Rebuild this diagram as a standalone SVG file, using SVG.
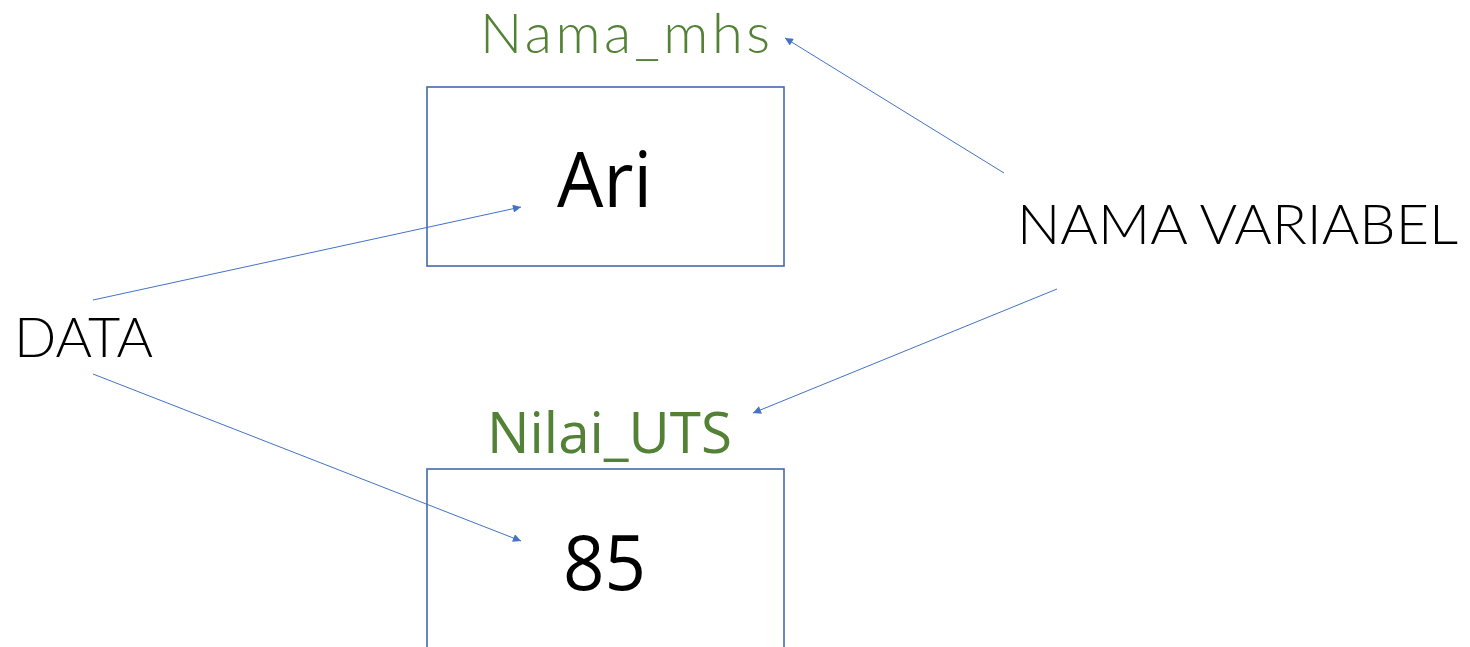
<svg xmlns="http://www.w3.org/2000/svg" width="1470" height="647" viewBox="0 0 1470 647">
  <style>
    .box { fill: #ffffff; stroke: #4468AE; stroke-width: 1.6; }
    .link { stroke: #4472C4; stroke-width: 1; fill: none; marker-end: url(#tip); }
    .varname { font-family: "Open Sans", "Noto Sans", sans-serif; font-size: 56px; fill: #538135; }
    .geo { font-family: Lato, "Noto Sans", sans-serif; font-weight: 300; font-size: 56px; fill: #538135; }
    .value { font-family: "Open Sans", "Liberation Sans", sans-serif; font-size: 76px; fill: #000000; }
    .label { font-family: Lato, "Noto Sans", sans-serif; font-weight: 300; font-size: 55px; fill: #000000; }
  </style>
  <defs>
    <marker id="tip" viewBox="0 0 10 10" refX="10" refY="5" markerWidth="10" markerHeight="8" markerUnits="userSpaceOnUse" orient="auto">
      <path d="M0,0 L10,5 L0,10 z" fill="#4472C4"/>
    </marker>
  </defs>
  <rect width="1470" height="647" fill="#ffffff"/>

  <!-- first variable: name above, value in the box -->
  <g id="var-nama">
    <rect class="box" x="427" y="87" width="357" height="179"/>
    <text class="geo" x="480" y="53" textLength="290" lengthAdjust="spacing">Nama_mhs</text>
    <text class="value" x="557" y="207" textLength="95" lengthAdjust="spacingAndGlyphs">Ari</text>
  </g>

  <!-- second variable -->
  <g id="var-nilai">
    <rect class="box" x="427" y="469" width="357" height="200"/>
    <text class="varname" x="487" y="453" textLength="245" lengthAdjust="spacingAndGlyphs">Nilai_UTS</text>
    <text class="value" x="563" y="590" textLength="83" lengthAdjust="spacingAndGlyphs">85</text>
  </g>

  <!-- side labels -->
  <g id="label-data">
    <text class="label" x="14" y="357" textLength="139" lengthAdjust="spacingAndGlyphs">DATA</text>
  </g>
  <g id="label-variabel">
    <text class="label" x="1017" y="244" textLength="441" lengthAdjust="spacingAndGlyphs">NAMA VARIABEL</text>
  </g>

  <!-- connectors -->
  <g id="connectors">
    <line class="link" x1="1004" y1="173" x2="785" y2="38"/>
    <line class="link" x1="1057" y1="289" x2="753" y2="413"/>
    <line class="link" x1="93" y1="300" x2="521" y2="207"/>
    <line class="link" x1="93" y1="374" x2="521" y2="541"/>
  </g>
</svg>
